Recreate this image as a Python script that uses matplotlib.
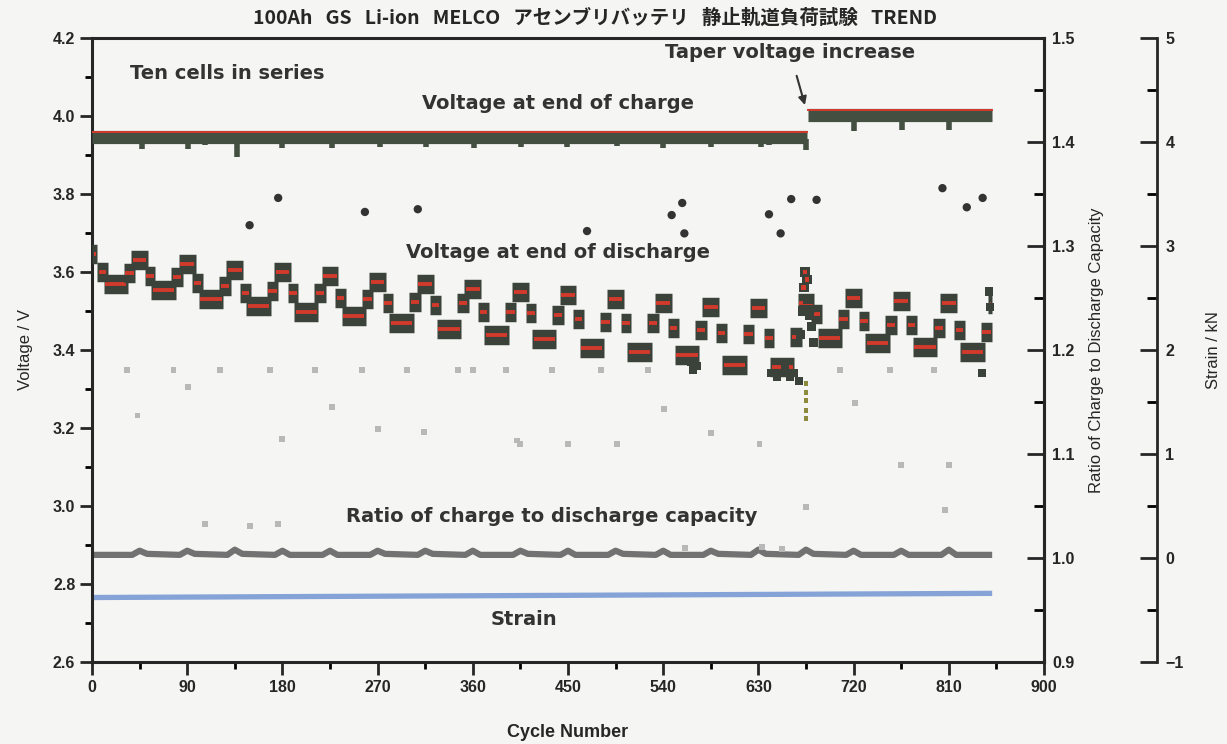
import numpy as np
import matplotlib
matplotlib.use('Agg')
import matplotlib.pyplot as plt
from matplotlib.ticker import MultipleLocator

plt.rcParams['font.family'] = ['Liberation Sans', 'DejaVu Sans']

# ---- data ----
# eclipse seasons, 45 cycles each
season_start = [0, 45, 90, 135, 180, 225, 270, 315, 360, 405,
                450, 495, 540, 585, 630, 675, 720, 765, 810]
# end-of-discharge voltage levels of the stepped blocks in each season
mid1_v = [3.600, 3.590, 3.573, 3.547, 3.547, 3.534, 3.520, 3.516, 3.498, 3.495,
          3.480, 3.470, 3.457, 3.444, 3.430, 3.493, 3.475, 3.465, 3.452]
low_v = [3.570, 3.555, 3.530, 3.513, 3.498, 3.487, 3.470, 3.454, 3.438, 3.428,
         3.405, 3.395, 3.387, 3.361, 3.356, 3.430, 3.418, 3.408, 3.395]
mid2_v = [3.597, 3.588, 3.565, 3.552, 3.545, 3.532, 3.524, 3.520, 3.498, 3.490,
          3.472, 3.470, 3.452, 3.440, 3.434, 3.480, 3.465, 3.457, 3.447]
peak_v = [3.632, 3.620, 3.606, 3.600, 3.590, 3.575, 3.570, 3.557, 3.550, 3.542,
          3.532, 3.520, 3.510, 3.508, 3.520, 3.534, 3.526, 3.520, 3.518]
first_block_v = 3.645
# cycle ranges of the blocks inside a season (eclipse schedule)
block_range = {'low': (11, 34), 'mid1': (5, 15), 'mid2': (30, 41), 'peak': (37, 53)}
last_cycle = 851

# step at taper voltage increase
trans_cycles = [670, 672, 673, 674, 676, 677, 678, 680, 682]
trans_v = [3.44, 3.50, 3.56, 3.60, 3.58, 3.53, 3.49, 3.46, 3.42]
tail_cycles = [566, 568, 572, 642, 648, 655, 660, 664, 668, 841, 848, 849]
tail_v = [3.37, 3.35, 3.36, 3.34, 3.33, 3.35, 3.33, 3.34, 3.32, 3.34, 3.55, 3.51]
yellow_cycles = [675, 675, 675, 675, 675]
yellow_v = [3.315, 3.29, 3.27, 3.245, 3.225]

# voltage at end of charge
charge_cycles_pre = [0, 676]
charge_v_pre = [3.946, 3.946]
charge_red_pre = [3.958, 3.958]
charge_cycles_post = [677, 851]
charge_v_post = [4.003, 4.003]
charge_red_post = [4.016, 4.016]
dip_cycles = [47, 91, 107, 137, 180, 227, 272, 316, 361, 406, 449, 496,
              540, 585, 632, 640, 675, 720, 766, 810]
dip_top = [3.94, 3.94, 3.94, 3.94, 3.94, 3.94, 3.94, 3.94, 3.94, 3.94, 3.94, 3.94,
           3.94, 3.94, 3.94, 3.94, 3.94, 3.99, 3.99, 3.99]
dip_v = [3.915, 3.915, 3.925, 3.895, 3.918, 3.918, 3.920, 3.920, 3.918, 3.920, 3.920, 3.922,
         3.918, 3.920, 3.920, 3.925, 3.912, 3.962, 3.965, 3.965]

# isolated discharge voltage points
odd_cycles = [149, 176, 258, 308, 468, 548, 558, 560, 640, 651, 661, 685, 804, 827, 842]
odd_v = [3.720, 3.790, 3.754, 3.761, 3.705, 3.746, 3.777, 3.699, 3.748, 3.699,
         3.787, 3.785, 3.815, 3.766, 3.790]

# ratio of charge to discharge capacity
ratio_cycles = [0, 38, 45, 52, 83, 90, 97, 128, 135, 142, 173, 180, 187, 218, 225, 232,
                263, 270, 277, 308, 315, 322, 353, 360, 367, 398, 405, 412, 443, 450, 457,
                488, 495, 502, 533, 540, 547, 578, 585, 592, 623, 630, 637, 668, 675, 682,
                713, 720, 727, 758, 765, 772, 803, 810, 817, 851]
ratio_vals = [1.003, 1.003, 1.007, 1.004, 1.003, 1.007, 1.004, 1.003, 1.008, 1.004,
              1.003, 1.007, 1.003, 1.003, 1.007, 1.003, 1.003, 1.007, 1.004, 1.003,
              1.007, 1.004, 1.003, 1.007, 1.003, 1.003, 1.007, 1.004, 1.003, 1.007,
              1.003, 1.003, 1.007, 1.004, 1.003, 1.007, 1.003, 1.003, 1.007, 1.004,
              1.003, 1.008, 1.004, 1.003, 1.008, 1.004, 1.003, 1.007, 1.003, 1.003,
              1.007, 1.003, 1.003, 1.008, 1.003, 1.003]
ratio_odd_cycles = [33, 77, 121, 168, 211, 255, 298, 346, 360, 391, 435, 481, 526, 707, 754, 796,
                    43, 91, 180, 227, 270, 314, 402, 405, 450, 496, 541, 585, 631, 721, 765, 810,
                    107, 149, 176, 675, 806, 561, 633, 652]
ratio_odd_vals = [1.181, 1.181, 1.181, 1.181, 1.181, 1.181, 1.181, 1.181, 1.181, 1.181,
                  1.181, 1.181, 1.181, 1.181, 1.181, 1.181,
                  1.137, 1.164, 1.114, 1.145, 1.124, 1.121, 1.113, 1.110, 1.110, 1.110,
                  1.143, 1.120, 1.110, 1.149, 1.089, 1.089,
                  1.033, 1.031, 1.033, 1.049, 1.046, 1.010, 1.011, 1.009]

# strain
strain_cycles = [0, 851]
strain_kn = [-0.38, -0.34]

# ---- styles ----
bg = '#f5f5f3'
ink = '#262626'
block_col = '#3b4239'
red = '#d23a2c'
band_col = '#434f40'

fig = plt.figure(figsize=(12.27, 7.44), dpi=100, facecolor=bg)
ax = fig.add_axes([92 / 1227, 82 / 744, 952 / 1227, 624 / 744], facecolor=bg)
ax2 = ax.twinx()
ax3 = ax.twinx()

# strain line (drawn on strain scale)
ax3.plot(strain_cycles, strain_kn, color='#86a3d8', lw=3.8, solid_capstyle='butt', zorder=2)

# ratio line and scattered ratio points
ax2.plot(ratio_cycles, ratio_vals, color='#727272', lw=4.5, solid_capstyle='butt', zorder=2)
ax2.scatter(ratio_odd_cycles, ratio_odd_vals, s=18, marker='s', color='#b8b8b8',
            edgecolors='none', zorder=2)

# charge voltage band
ax.plot(charge_cycles_pre, charge_v_pre, color=band_col, lw=9.5, solid_capstyle='butt', zorder=3)
ax.plot(charge_cycles_pre, charge_red_pre, color=red, lw=1.4, zorder=4)
ax.plot(charge_cycles_post, charge_v_post, color=band_col, lw=9.5, solid_capstyle='butt', zorder=3)
ax.plot(charge_cycles_post, charge_red_post, color=red, lw=1.4, zorder=4)
ax.vlines(dip_cycles, dip_v, dip_top, color=band_col, lw=4, zorder=3)


def draw_block(x0, x1, v, z):
    x1 = min(x1, last_cycle)
    if x1 <= x0:
        return
    ax.plot([x0, x1], [v, v], color=block_col, lw=14, solid_capstyle='butt', zorder=z)
    ax.plot([x0 + 1.5, x1 - 1.5], [v, v], color=red, lw=2.8, solid_capstyle='butt',
            zorder=z + 0.01)


draw_block(0, 5, first_block_v, 5)
for i, s in enumerate(season_start):
    draw_block(s + block_range['low'][0], s + block_range['low'][1], low_v[i], 5)
    draw_block(s + block_range['mid1'][0], s + block_range['mid1'][1], mid1_v[i], 5.1)
    draw_block(s + block_range['mid2'][0], s + block_range['mid2'][1], mid2_v[i], 5.1)
    draw_block(s + block_range['peak'][0], s + block_range['peak'][1], peak_v[i], 5.2)

ax.scatter(trans_cycles, trans_v, s=45, marker='s', color=block_col, edgecolors='none', zorder=6)
ax.scatter(trans_cycles[2:5], trans_v[2:5], s=12, marker='s', color=red, edgecolors='none', zorder=6.1)
ax.scatter(tail_cycles, tail_v, s=34, marker='s', color=block_col, edgecolors='none', zorder=6)
ax.scatter(yellow_cycles, yellow_v, s=12, marker='s', color='#8c8a3c', edgecolors='none', zorder=6)
ax.scatter(odd_cycles, odd_v, s=36, marker='o', color='#333333', edgecolors='none', zorder=6)

# ---- axes ----
ax.set_xlim(0, 900)
ax.set_ylim(2.6, 4.2)
ax2.set_ylim(0.9, 1.5)
ax3.set_ylim(-1, 5)

ax.xaxis.set_major_locator(MultipleLocator(90))
ax.xaxis.set_minor_locator(MultipleLocator(45))
ax.yaxis.set_major_locator(MultipleLocator(0.2))
ax.yaxis.set_minor_locator(MultipleLocator(0.1))
ax2.yaxis.set_major_locator(MultipleLocator(0.1))
ax2.yaxis.set_minor_locator(MultipleLocator(0.05))
ax3.yaxis.set_major_locator(MultipleLocator(1))
ax3.yaxis.set_minor_locator(MultipleLocator(0.5))

ax.set_zorder(ax3.get_zorder() + 2)
ax.patch.set_visible(False)
ax2.patch.set_visible(False)
ax3.patch.set_visible(False)

for sp in ax.spines.values():
    sp.set_linewidth(2.2)
    sp.set_color(ink)
ax2.spines['right'].set_linewidth(2.2)
ax2.spines['right'].set_color(ink)
for k in ['top', 'left', 'bottom']:
    ax3.spines[k].set_visible(False)
ax3.spines['right'].set_position(('axes', 1065 / 952))
ax3.spines['right'].set_linewidth(2.0)
ax3.spines['right'].set_color(ink)

tick_font = dict(labelsize=11.5, colors=ink)
ax.tick_params(axis='x', which='major', direction='out', length=9, width=2, pad=4, **tick_font)
ax.tick_params(axis='x', which='minor', direction='out', length=5, width=2)
ax.tick_params(axis='y', which='major', direction='out', length=9, width=2, pad=3, **tick_font)
ax.tick_params(axis='y', which='minor', direction='out', length=5, width=2)
ax2.tick_params(axis='y', which='major', direction='in', length=12, width=2, pad=6, **tick_font)
ax2.tick_params(axis='y', which='minor', direction='in', length=7, width=2)
ax3.tick_params(axis='y', which='major', direction='in', length=12, width=2, pad=6, **tick_font)
ax3.tick_params(axis='y', which='minor', direction='in', length=7, width=2)
ax.set_yticks(ax.get_yticks())
ax.set_yticklabels([f'{v:.1f}' for v in ax.get_yticks()])
ax2.set_yticks(ax2.get_yticks())
ax2.set_yticklabels([f'{v:.1f}' for v in ax2.get_yticks()])
ax.set_ylim(2.6, 4.2)
ax2.set_ylim(0.9, 1.5)
for a in (ax, ax2, ax3):
    for lab in a.get_xticklabels() + a.get_yticklabels():
        lab.set_fontweight('bold')

ax.set_xlabel('Cycle Number', fontsize=13, fontweight='bold', color=ink, labelpad=21)
ax.set_ylabel('Voltage / V', fontsize=12, color=ink, labelpad=14)
ax2.set_ylabel('Ratio of Charge to Discharge Capacity', fontsize=12, color=ink, labelpad=10)
ax3.set_ylabel('Strain / kN', fontsize=12, color=ink, labelpad=16)

fig.text(0.485, 0.975, '100Ah   GS   Li-ion   MELCO   アセンブリバッテリ   静止軌道負荷試験   TREND',
         ha='center', va='center', fontsize=14, fontweight='bold', color=ink,
         family=['Noto Sans CJK JP', 'DejaVu Sans'])

anno = dict(fontsize=14, fontweight='bold', color='#333333', family=['DejaVu Sans'])
ax.text(36, 4.11, 'Ten cells in series', ha='left', va='center', **anno)
ax.text(441, 4.031, 'Voltage at end of charge', ha='center', va='center', **anno)
ax.text(441, 3.649, 'Voltage at end of discharge', ha='center', va='center', **anno)
ax.text(435, 2.972, 'Ratio of charge to discharge capacity', ha='center', va='center', **anno)
ax.text(408, 2.708, 'Strain', ha='center', va='center', **anno)
ax.annotate('Taper voltage increase', xy=(674, 4.028), xytext=(660, 4.162),
            ha='center', va='center', zorder=8,
            arrowprops=dict(arrowstyle='-|>', color='#333333', lw=1.5, shrinkA=8, shrinkB=0,
                            mutation_scale=12),
            **anno)

fig.savefig('out.png', dpi=100, facecolor=bg)
